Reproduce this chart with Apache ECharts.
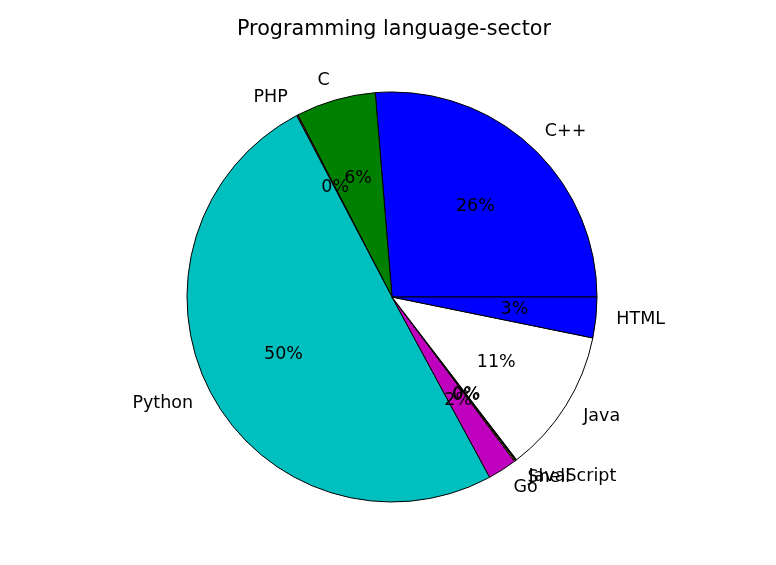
<!DOCTYPE html>
<html>
<head>
<meta charset="utf-8">
<script src="https://cdn.jsdelivr.net/npm/echarts@6/dist/echarts.min.js"></script>
<style>
html,body{margin:0;padding:0;background:#fff;}
#chart{width:776px;height:565px;}
</style>
</head>
<body>
<div id="chart"></div>
<script>
const titleText = 'Programming language-sector';
const categories = ['C++', 'C', 'PHP', 'Python', 'Go', 'Shell', 'JavaScript', 'Java', 'HTML'];
const values = [26.3, 6.3, 0.1, 50.2, 2.3, 0.1, 0.1, 11.4, 3.2];
const colors = ['#0000ff', '#008000', '#ff0000', '#00bfbf', '#bf00bf', '#bfbf00', '#000000', '#ffffff', '#0000ff'];

const total = values.reduce((a, b) => a + b, 0);
const R = 205;
const CX = 392, CY = 297;
const FONT = 'DejaVu Sans';

const pieData = categories.map((name, i) => ({ name, value: values[i], itemStyle: { color: colors[i] } }));
const pctData = categories.map((name, i) => ({ name, value: values[i] }));

const chart = echarts.init(document.getElementById('chart'), null, { renderer: 'canvas' });
chart.setOption({
  animation: false,
  backgroundColor: '#ffffff',
  title: {
    text: titleText,
    left: 237,
    top: 19,
    padding: 0,
    textStyle: { fontFamily: FONT, fontSize: 20.7, fontWeight: 'normal', color: '#000' }
  },
  series: [
    {
      type: 'pie',
      center: [CX, CY],
      radius: [0, R],
      startAngle: 0,
      clockwise: false,
      avoidLabelOverlap: false,
      minShowLabelAngle: 0,
      silent: true,
      data: pieData,
      itemStyle: { borderColor: '#000', borderWidth: 1 },
      label: {
        show: true,
        position: 'outside',
        distanceToLabelLine: 0,
        fontFamily: FONT,
        fontSize: 17.5,
        color: '#000',
        formatter: p => p.name
      },
      labelLine: { show: false, length: R * 0.1, length2: 0 },
      labelLayout: { hideOverlap: false },
      emphasis: { disabled: true }
    },
    {
      type: 'pie',
      center: [CX, CY],
      radius: [0, 2 * (0.6 * R - 3)],
      startAngle: 0,
      clockwise: false,
      avoidLabelOverlap: false,
      minShowLabelAngle: 0,
      silent: true,
      data: pctData,
      itemStyle: { color: 'rgba(0,0,0,0)', borderWidth: 0 },
      label: {
        show: true,
        position: 'inside',
        fontFamily: FONT,
        fontSize: 17.5,
        color: '#000',
        formatter: p => Math.round(p.value / total * 100) + '%'
      },
      labelLine: { show: false },
      labelLayout: { hideOverlap: false },
      emphasis: { disabled: true }
    }
  ]
});
</script>
</body>
</html>
